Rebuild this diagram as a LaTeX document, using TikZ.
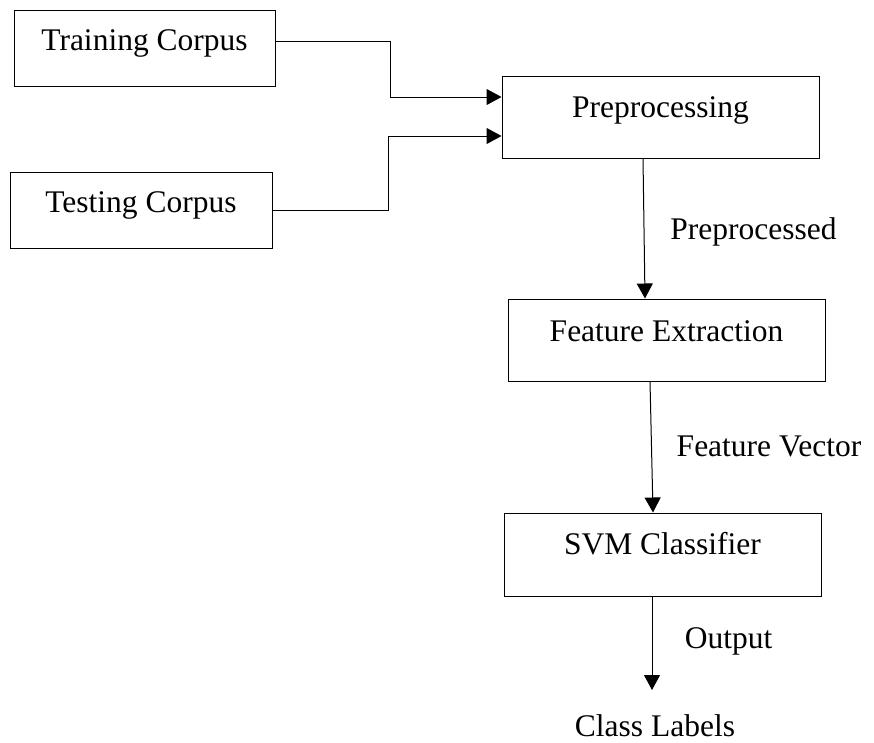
\documentclass[tikz,border=0pt]{standalone}
\usepackage{fontspec}
\setmainfont{Liberation Serif}
\usetikzlibrary{arrows.meta}
\begin{document}
\begin{tikzpicture}[x=1pt,y=-1pt,
  box/.style={draw=black,line width=1pt,rectangle,inner sep=0pt},
  txt/.style={anchor=base,inner sep=0pt,font=\fontsize{31.5}{36}\selectfont},
  arr/.style={draw=black,line width=1pt,-{Triangle[length=15pt,width=16pt]}}]
\useasboundingbox (0,0) rectangle (874,742);
% boxes
\node[box,minimum width=261pt,minimum height=76pt] (train) at (144.5,48) {};
\node[box,minimum width=262pt,minimum height=76pt] (test) at (141,210) {};
\node[box,minimum width=317pt,minimum height=82pt] (pre) at (660.5,117) {};
\node[box,minimum width=317pt,minimum height=82pt] (feat) at (666.5,340) {};
\node[box,minimum width=317pt,minimum height=83pt] (svm) at (662.5,554.5) {};
% box texts
\node[txt] (traint) at (144.5,50) {Training Corpus};
\node[txt] (testt) at (141,212) {Testing Corpus};
\node[txt] (pret) at (660.5,117) {Preprocessing};
\node[txt] (featt) at (666.5,341) {Feature Extraction};
\node[txt] (svmt) at (662.5,554) {SVM Classifier};
% labels
\node[txt] (lpre) at (753.5,239) {Preprocessed};
\node[txt] (lfeat) at (769,456) {Feature Vector};
\node[txt] (lout) at (728.5,648) {Output};
\node[txt] (cls) at (655,736) {Class Labels};
\coordinate (outend) at (652,690);
% connectors
\draw[arr] (train.east |- 0,41) -- (390,41) |- (pre.west |- 0,97);
\draw[arr] (test.east) -- (388,210) |- (pre.west |- 0,136);
\draw[arr] ([xshift=-17.5pt]pre.south) -- ([xshift=-21.5pt]feat.north);
\draw[arr] ([xshift=-16.5pt]feat.south) -- ([xshift=-9.5pt]svm.north);
\draw[arr] ([xshift=-10.5pt]svm.south) -- (outend);
\end{tikzpicture}
\end{document}
